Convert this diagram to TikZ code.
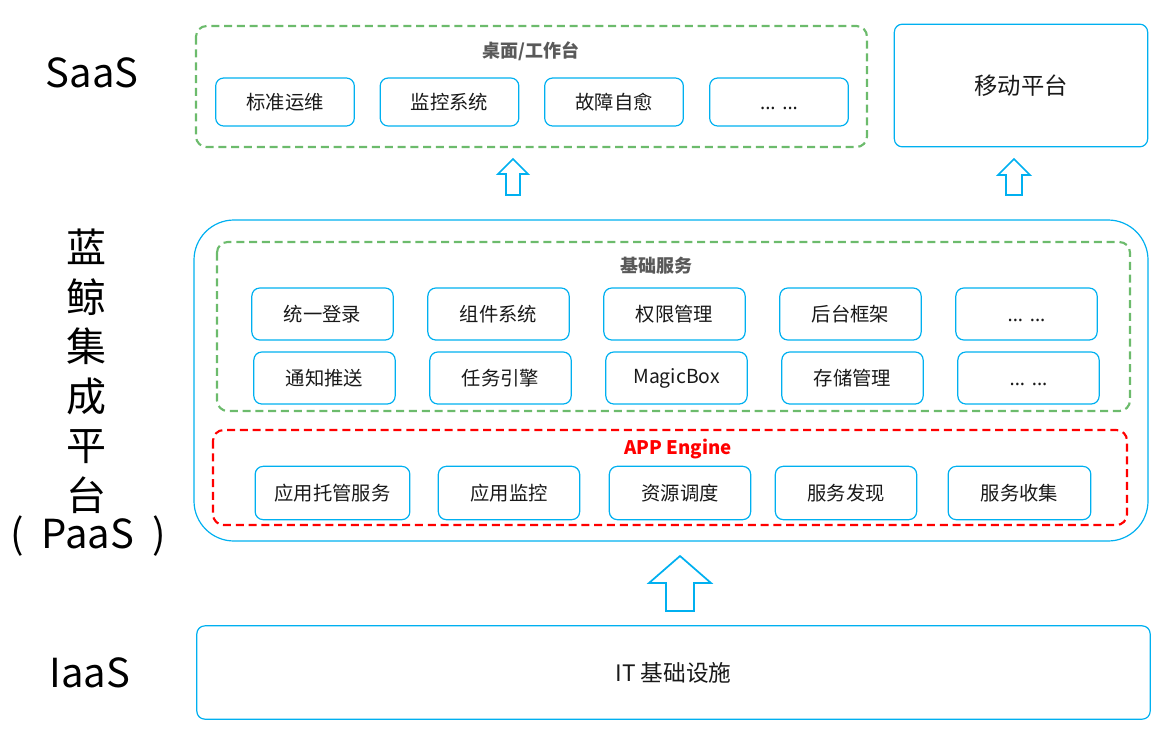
\documentclass[tikz,border=0pt]{standalone}
\usepackage{fontspec}
\setmainfont{Noto Sans CJK SC}
\newfontfamily\dotsfont{Noto Sans}
\usepackage{tikz}
\usetikzlibrary{positioning,calc}

\definecolor{boxblue}{HTML}{00B0F0}
\definecolor{groupgreen}{HTML}{6CBB6C}
\definecolor{enginered}{HTML}{FF0000}
\definecolor{titlegray}{HTML}{595959}

\newcommand{\moredots}{\vphantom{统}{\dotsfont ... ...}}

% hollow up arrow: x, tip y, head base y, bottom y, head half width, shaft half width
\newcommand{\hollowup}[6]{%
  \draw [boxblue, line width=1.3, line join=miter]
    (#1,#2) -- (#1+#5,#3) -- (#1+#6,#3) -- (#1+#6,#4) -- (#1-#6,#4) -- (#1-#6,#3) -- (#1-#5,#3) -- cycle;
}

\begin{document}
\begin{tikzpicture}[
    x=0.75pt, y=-0.75pt,
    item/.style={draw=boxblue, line width=0.9, rounded corners=6, font=\fontsize{14.5}{16}\selectfont, text=black!90},
    group/.style={draw=groupgreen, line width=1.6, dash pattern=on 6pt off 3.6pt, rounded corners=8},
    engine/.style={draw=enginered, line width=1.6, dash pattern=on 6pt off 3.6pt, rounded corners=8},
    layer/.style={font=\fontsize{30}{34}\selectfont, inner sep=0pt},
    grouptitle/.style={font=\fontsize{13.5}{15}\selectfont\bfseries, text=titlegray}
]
    \useasboundingbox (0,0) rectangle (1170,736);

    % SaaS layer
    \draw [group] (196,26) rectangle (867,147);
    \node [grouptitle] (desktop) at (531,51) {桌面/工作台};
    \foreach \i/\x/\label in {1/285/标准运维, 2/449.5/监控系统, 3/614/故障自愈, 4/779/\moredots} {
        \node [item, minimum width=104, minimum height=36] (saas\i) at (\x,102) {\label};
    }
    \node [item, minimum width=190, minimum height=92, font=\fontsize{17.5}{20}\selectfont] (mobile) at (1021,85.5) {移动平台};

    % arrows up to SaaS
    \hollowup{513}{159}{174}{195}{15}{7}
    \hollowup{1014}{159}{175}{195}{16}{8}

    % PaaS layer
    \draw [draw=boxblue, line width=0.9, rounded corners=30] (194,220) rectangle (1148,541);
    \draw [group] (217,242) rectangle (1130,411);
    \node [grouptitle] (basic) at (656,266) {基础服务};
    \foreach \i/\x/\label in {1/322.5/统一登录, 2/498.5/组件系统, 3/674.5/权限管理, 4/850.5/后台框架, 5/1026.5/\moredots} {
        \node [item, minimum width=106, minimum height=39] (basicA\i) at (\x,314) {\label};
    }
    \foreach \i/\x/\label in {1/324.5/通知推送, 2/500.5/任务引擎, 3/676.5/MagicBox, 4/852.5/存储管理, 5/1028.5/\moredots} {
        \node [item, minimum width=106, minimum height=39] (basicB\i) at (\x,378) {\label};
    }
    \draw [engine] (213,430) rectangle (1127,525);
    \node [font=\fontsize{14}{16}\selectfont\bfseries, text=enginered] (appengine) at (678,449) {APP Engine};
    \foreach \i/\x/\w/\label in {1/332.5/116/应用托管服务, 2/509/106/应用监控, 3/680/106/资源调度, 4/846/106/服务发现, 5/1019.5/107/服务收集} {
        \node [item, minimum width=\w, minimum height=40] (engine\i) at (\x,493) {\label};
    }

    % arrow up to PaaS
    \hollowup{680}{556}{583}{611}{31}{14}

    % IaaS layer
    \node [item, minimum width=715, minimum height=70, font=\fontsize{17}{20}\selectfont] (infra) at (673.5,672.5) {IT 基础设施};

    % layer labels
    \node [layer] (saas) at (92,73) {SaaS};
    \node [layer] (iaas) at (90,673) {IaaS};
    \foreach \i/\ch in {0/蓝, 1/鲸, 2/集, 3/成, 4/平, 5/台} {
        \node [layer, text height=0.8em, text depth=0.08em] (paas\i) at (86,258+49.5*\i) {\ch};
    }
    \node [layer, text height=0.7em, text depth=0.16em] (paas) at (88,545) {(\hspace{0.45em}PaaS\hspace{0.45em})};
\end{tikzpicture}
\end{document}
